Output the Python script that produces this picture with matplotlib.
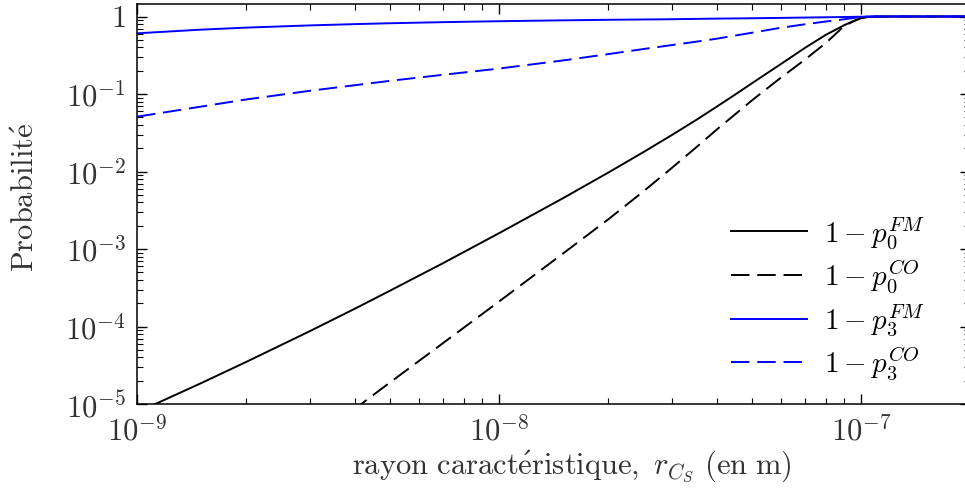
import matplotlib
matplotlib.use("Agg")
import matplotlib.pyplot as plt
from matplotlib.ticker import FuncFormatter, LogLocator, NullFormatter
import numpy as np

plt.rcParams['mathtext.fontset'] = 'cm'
plt.rcParams['font.family'] = 'serif'
plt.rcParams['font.serif'] = ['cmr10', 'DejaVu Serif']
plt.rcParams['axes.formatter.use_mathtext'] = True

# rayon caracteristique (m)
r = [1e-9, 1.5e-9, 2e-9, 3e-9, 4e-9, 5e-9, 7e-9, 1e-8, 1.5e-8, 2e-8, 2.5e-8,
     3e-8, 3.5e-8, 4e-8, 4.5e-8, 5e-8, 6e-8, 7e-8, 8e-8, 9e-8, 9.5e-8, 1e-7,
     1.05e-7, 1.1e-7, 1.2e-7, 1.5e-7, 2e-7]

# 1 - p0 (FM), 1 - p0 (CO), 1 - p3 (FM), 1 - p3 (CO)
p0_fm = [7.8e-6, 1.85e-5, 3.48e-5, 8.7e-5, 1.70e-4, 2.90e-4, 6.56e-4, 1.60e-3,
         4.51e-3, 9.64e-3, 0.0177, 0.0295, 0.0461, 0.069, 0.0991, 0.138, 0.243,
         0.394, 0.582, 0.776, 0.87, 0.955, 0.986, 0.998, 1.0, 1.0, 1.0]
p0_co = [np.nan, np.nan, np.nan, 3.2e-6, 8.7e-6, 1.9e-5, 6.1e-5, 2.1e-4,
         8.7e-4, 2.4e-3, 5.5e-3, 0.0111, 0.0204, 0.035, 0.0552, 0.083, 0.162,
         0.278, 0.457, 0.76, 0.86, 0.96, 0.985, 0.995, 1.0, 1.0, 1.0]
p3_fm = [0.607, 0.677, 0.719, 0.768, 0.798, 0.819, 0.846, 0.870, 0.893, 0.907,
         0.916, 0.923, 0.932, 0.94, 0.945, 0.95, 0.96, 0.97, 0.978, 0.986, 0.99,
         0.994, 0.998, 1.0, 1.0, 1.0, 1.0]
p3_co = [0.051, 0.0687, 0.085, 0.11, 0.13, 0.148, 0.177, 0.213, 0.271, 0.327,
         0.38, 0.428, 0.473, 0.518, 0.569, 0.618, 0.716, 0.794, 0.863, 0.923,
         0.955, 0.99, 0.998, 1.0, 1.0, 1.0, 1.0]


def tick_fmt(v, pos):
    n = int(round(np.log10(v)))
    if n == 0:
        return r'$1$'
    return r'$10^{%d}$' % n


fig = plt.figure(figsize=(9.65, 4.9), dpi=100)
ax = fig.add_axes([0.142, 0.1755, 0.8632, 0.8163])

lw = 1.4
dash = (9.5, 4)
ax.plot(r, p0_fm, color='black', lw=lw, label=r'$1-p_0^{FM}$')
ax.plot(r, p0_co, color='black', lw=lw, dashes=dash, label=r'$1-p_0^{CO}$')
ax.plot(r, p3_fm, color='blue', lw=lw, label=r'$1-p_3^{FM}$')
ax.plot(r, p3_co, color='blue', lw=lw, dashes=dash, label=r'$1-p_3^{CO}$')

ax.set_xscale('log')
ax.set_yscale('log')
ax.set_xlim(1e-9, 2e-7)
ax.set_ylim(1e-5, 1.45)

ax.xaxis.set_major_locator(LogLocator(base=10, numticks=10))
ax.yaxis.set_major_locator(LogLocator(base=10, numticks=10))
ax.xaxis.set_major_formatter(FuncFormatter(tick_fmt))
ax.yaxis.set_major_formatter(FuncFormatter(tick_fmt))
ax.xaxis.set_minor_formatter(NullFormatter())
ax.yaxis.set_minor_formatter(NullFormatter())

fs = 22
ax.tick_params(which='both', direction='in', top=True, right=True,
               labelsize=fs, colors='black', labelcolor='#333333')
ax.tick_params(which='major', length=7, width=1.0, pad=8)
ax.tick_params(which='minor', length=4, width=0.8)
for s in ax.spines.values():
    s.set_linewidth(1.1)

ax.set_ylabel(r'$\mathrm{Probabilit\acute{e}}$', fontsize=fs, color='#333333')
ax.yaxis.set_label_coords(-0.117, 0.5175)
ax.set_xlabel(r'$\mathrm{rayon\ caract\acute{e}ristique,}\ r_{C_S}\ \mathrm{(en\ m)}$',
              fontsize=fs, color='#333333')
ax.xaxis.set_label_coords(0.522, -0.112)

ax.legend(loc='upper left', bbox_to_anchor=(0.713, 0.472), frameon=False,
          fontsize=21, handlelength=2.6, labelspacing=0.25, handletextpad=0.6,
          borderpad=0, borderaxespad=0)

fig.savefig('out.png', dpi=100)
